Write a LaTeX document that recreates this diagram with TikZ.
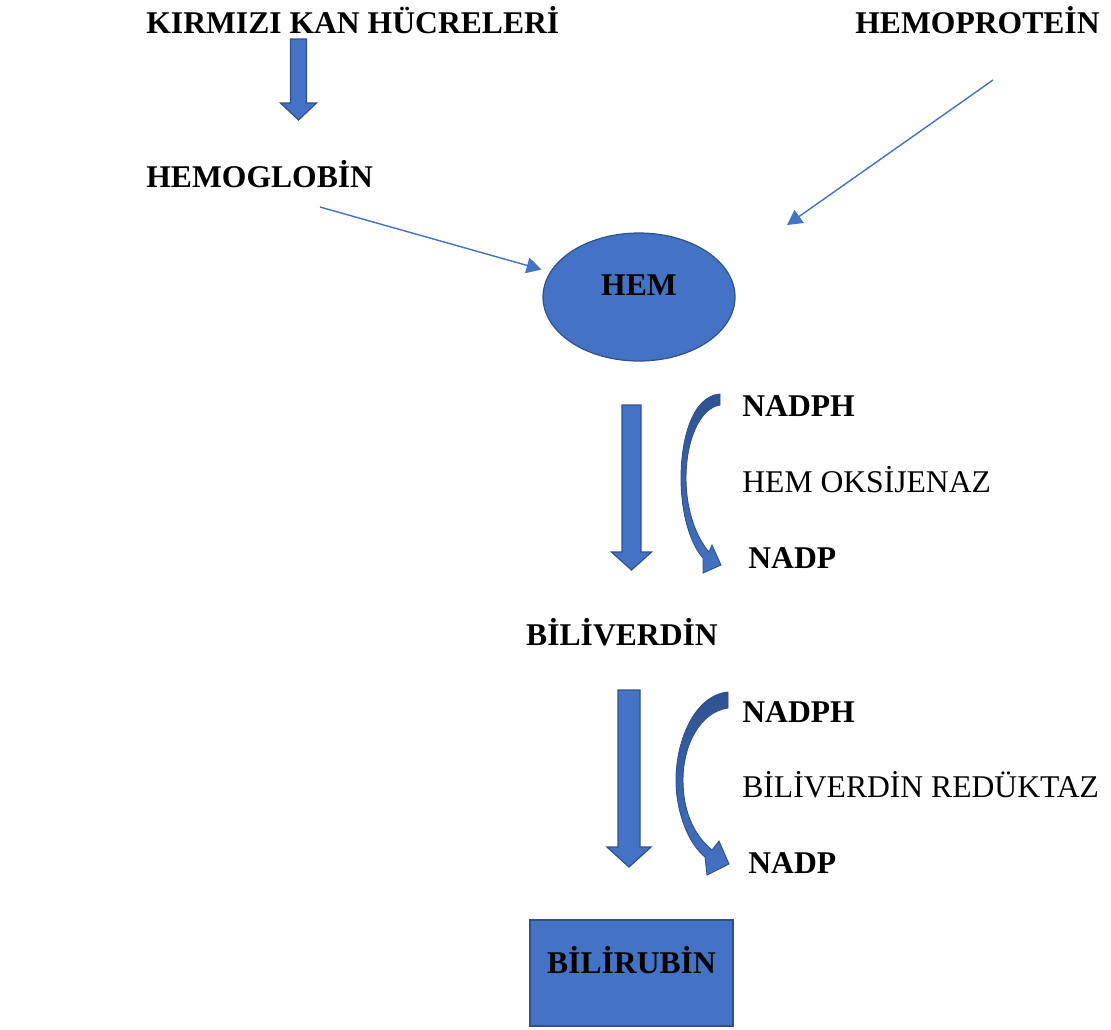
\documentclass[tikz,border=0pt]{standalone}
\usepackage{fontspec}
\setmainfont{Liberation Serif}
\usetikzlibrary{arrows.meta,shapes.geometric}
\definecolor{mavi}{HTML}{4472C4}
\definecolor{koyumavi}{HTML}{2F528F}
\tikzset{
  kalin/.style={font=\bfseries\fontsize{18}{20}\selectfont,inner sep=0pt},
  duz/.style={font=\fontsize{18}{20}\selectfont,inner sep=0pt},
  blokstil/.style={fill=mavi,draw=koyumavi,line width=0.7pt},
  kivrik/.style={top color=koyumavi,bottom color=mavi,draw=koyumavi,line width=0.5pt},
  ince ok/.style={draw=mavi,line width=0.8pt,-{Triangle[length=8.5pt,width=9pt]}}
}
\begin{document}
\begin{tikzpicture}[x=0.02cm,y=-0.02cm]
\useasboundingbox (0,0) rectangle (1111,1029);
\newcommand\blokok[6]{
\filldraw[blokstil] ({#1-#5},#2) -- ({#1+#5},#2) -- ({#1+#5},#3) -- ({#1+#6},#3)
  -- (#1,#4) -- ({#1-#6},#3) -- ({#1-#5},#3) -- cycle;
}
% ust yazilar
\node[kalin,anchor=base west] (kirmizi) at (146,33) {KIRMIZI KAN HÜCRELERİ};
\node[kalin,anchor=base west] (hemoprotein) at (855,33) {HEMOPROTEİN};
\node[kalin,anchor=base west] (hemoglobin) at (146,187) {HEMOGLOBİN};
% hem ve bilirubin
\node[blokstil,ellipse,minimum width=3.84cm,minimum height=2.56cm,
  kalin,text height=13pt,text depth=15pt] (hem) at (639,297) {HEM};
\node[blokstil,rectangle,minimum width=4.06cm,minimum height=2.12cm,
  kalin,text height=13pt,text depth=13pt] (bilirubin) at (631.5,973) {BİLİRUBİN};
\node[kalin,anchor=base] (biliverdin) at (622,645) {BİLİVERDİN};
% enzim yazilari
\node[kalin,anchor=base west] (nadph1) at (742,416) {NADPH};
\node[duz,anchor=base west] (oksijenaz) at (742,492) {HEM OKSİJENAZ};
\node[kalin,anchor=base west] (nadp1) at (748,568) {NADP};
\node[kalin,anchor=base west] (nadph2) at (742,722) {NADPH};
\node[duz,anchor=base west] (reduktaz) at (742,797) {BİLİVERDİN REDÜKTAZ};
\node[kalin,anchor=base west] (nadp2) at (748,873) {NADP};
% ince oklar
\coordinate (hgb-uc) at (320,207);
\coordinate (hp-uc) at (993,80);
\coordinate (hp-son) at (787,225);
\draw[ince ok,shorten >=5pt] (hgb-uc) -- (hem);
\draw[ince ok] (hp-uc) -- (hp-son);
% blok oklar
\blokok{298.5}{39}{103}{120}{8}{18}
\blokok{631.5}{405}{552}{570}{9.5}{20}
\blokok{629}{690}{847}{867}{11}{22}
% kivrik oklar
\shadedraw[kivrik] (720,394) .. controls (692,396) and (681,440) .. (681,478)
  .. controls (681,515) and (691,545) .. (703,558) -- (703,573) -- (721,565)
  -- (712,545) -- (709,552) .. controls (697,538) and (686,512) .. (686,478)
  .. controls (686,440) and (700,408) .. (720,405) -- cycle;
\shadedraw[kivrik] (728,692) .. controls (695,695) and (676,740) .. (676,780)
  .. controls (676,815) and (690,845) .. (705,857) -- (707,875) -- (729,864)
  -- (719,841) -- (712,850) .. controls (694,835) and (683,812) .. (683,780)
  .. controls (683,745) and (700,712) .. (728,708) -- cycle;
\end{tikzpicture}
\end{document}
